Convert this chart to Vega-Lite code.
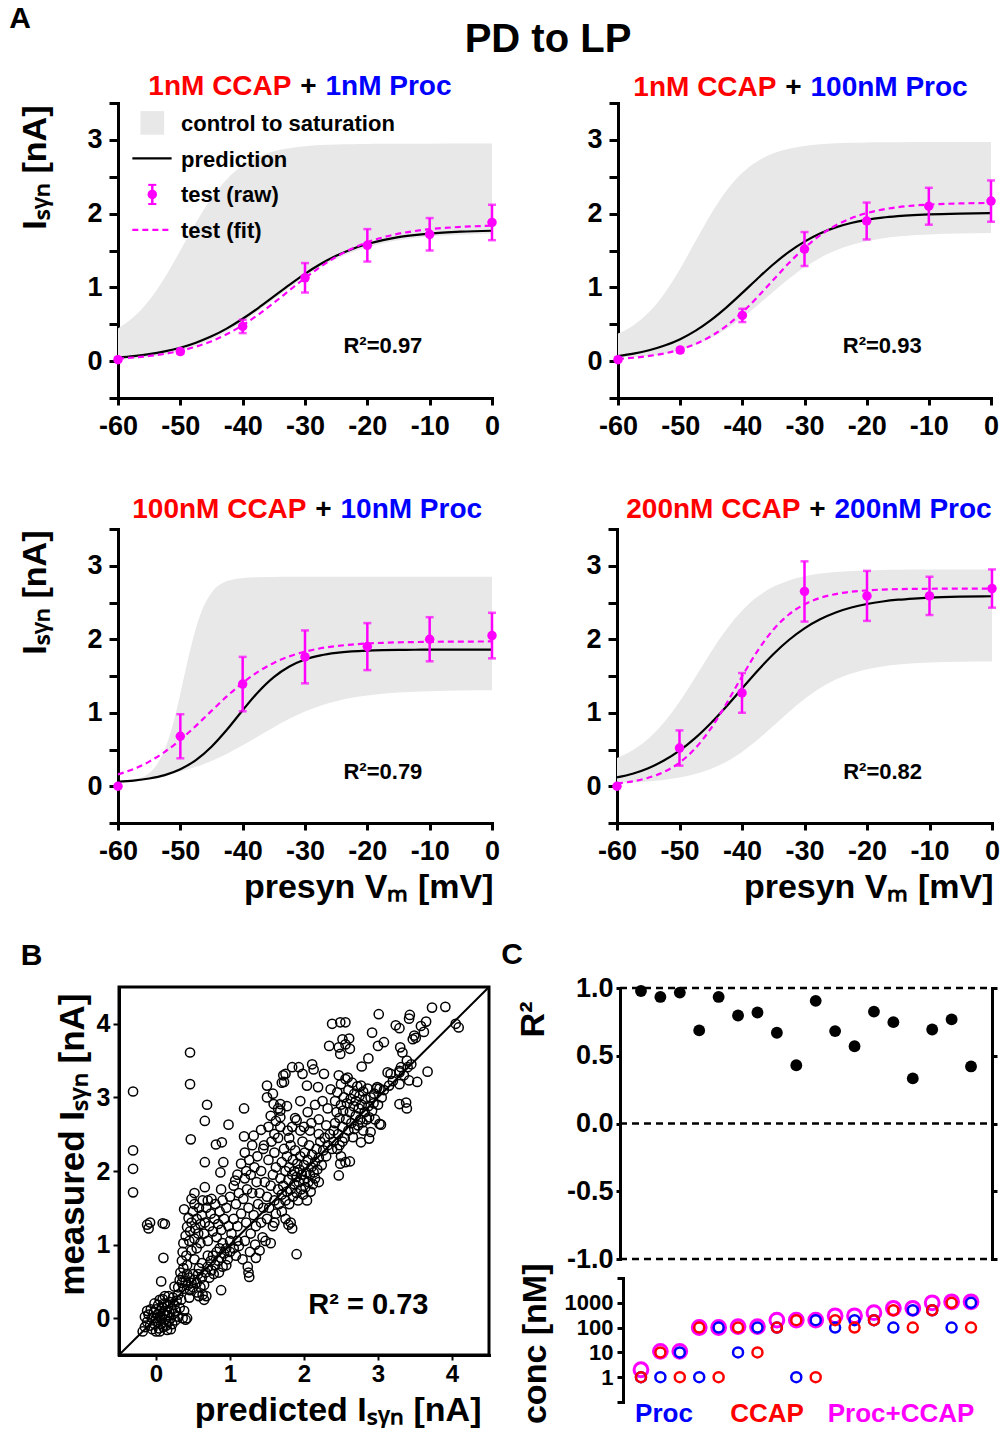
{
"$schema": "https://vega.github.io/schema/vega-lite/v6.json",
"width": 1001, "height": 1429,
"autosize": {"type": "none"},
"padding": 0,
"background": "white",
"config": {
 "font": "Liberation Sans",
 "view": {"stroke": null},
 "axis": {"grid": false, "domainColor": "black", "domainWidth": 3, "domainCap": "square", "tickColor": "black", "tickWidth": 3, "labelColor": "black", "labelFont": "Liberation Sans", "labelFontWeight": "bold", "labelFontSize": 27, "labelPadding": 6, "labelFlush": false, "labelOverlap": false, "titleColor": "black", "titleFont": "Liberation Sans", "titleFontWeight": "bold", "titleFontSize": 34},
 "text": {"font": "Liberation Sans", "fontWeight": "bold", "color": "black"}
},
"datasets": {
 "band": [
  {"p":"A1","V":-60,"lo":0.02,"hi":0.443},{"p":"A1","V":-57.5,"lo":0.03,"hi":0.597},{"p":"A1","V":-55,"lo":0.055,"hi":0.826},{"p":"A1","V":-52.5,"lo":0.09,"hi":1.132},{"p":"A1","V":-50,"lo":0.14,"hi":1.499},{"p":"A1","V":-47.5,"lo":0.21,"hi":1.875},{"p":"A1","V":-45,"lo":0.295,"hi":2.211},{"p":"A1","V":-42.5,"lo":0.4,"hi":2.471},{"p":"A1","V":-40,"lo":0.53,"hi":2.653},{"p":"A1","V":-37.5,"lo":0.68,"hi":2.771},{"p":"A1","V":-35,"lo":0.84,"hi":2.845},{"p":"A1","V":-32.5,"lo":0.995,"hi":2.888},{"p":"A1","V":-30,"lo":1.145,"hi":2.914},{"p":"A1","V":-27.5,"lo":1.275,"hi":2.929},{"p":"A1","V":-25,"lo":1.385,"hi":2.938},{"p":"A1","V":-22.5,"lo":1.475,"hi":2.942},{"p":"A1","V":-20,"lo":1.545,"hi":2.945},{"p":"A1","V":-17.5,"lo":1.6,"hi":2.947},{"p":"A1","V":-15,"lo":1.64,"hi":2.948},{"p":"A1","V":-10,"lo":1.69,"hi":2.949},{"p":"A1","V":-5,"lo":1.715,"hi":2.95},{"p":"A1","V":0,"lo":1.73,"hi":2.95},
  {"p":"A2","V":-60,"lo":0.05,"hi":0.373},{"p":"A2","V":-57.5,"lo":0.055,"hi":0.488},{"p":"A2","V":-55,"lo":0.07,"hi":0.665},{"p":"A2","V":-52.5,"lo":0.105,"hi":0.921},{"p":"A2","V":-50,"lo":0.154,"hi":1.253},{"p":"A2","V":-47.5,"lo":0.223,"hi":1.631},{"p":"A2","V":-45,"lo":0.317,"hi":2.002},{"p":"A2","V":-42.5,"lo":0.44,"hi":2.318},{"p":"A2","V":-40,"lo":0.59,"hi":2.554},{"p":"A2","V":-37.5,"lo":0.762,"hi":2.715},{"p":"A2","V":-35,"lo":0.942,"hi":2.818},{"p":"A2","V":-32.5,"lo":1.117,"hi":2.881},{"p":"A2","V":-30,"lo":1.272,"hi":2.918},{"p":"A2","V":-27.5,"lo":1.4,"hi":2.94},{"p":"A2","V":-25,"lo":1.5,"hi":2.953},{"p":"A2","V":-22.5,"lo":1.574,"hi":2.96},{"p":"A2","V":-20,"lo":1.627,"hi":2.965},{"p":"A2","V":-17.5,"lo":1.664,"hi":2.967},{"p":"A2","V":-15,"lo":1.689,"hi":2.968},{"p":"A2","V":-10,"lo":1.718,"hi":2.97},{"p":"A2","V":-5,"lo":1.73,"hi":2.97},{"p":"A2","V":0,"lo":1.736,"hi":2.97},
  {"p":"A3","V":-60,"lo":0.05,"hi":0.06},{"p":"A3","V":-57.5,"lo":0.07,"hi":0.09},{"p":"A3","V":-55,"lo":0.1,"hi":0.18},{"p":"A3","V":-53.75,"lo":0.13,"hi":0.297},{"p":"A3","V":-52.5,"lo":0.157,"hi":0.502},{"p":"A3","V":-51.25,"lo":0.178,"hi":0.824},{"p":"A3","V":-50,"lo":0.202,"hi":1.259},{"p":"A3","V":-48.75,"lo":0.231,"hi":1.734},{"p":"A3","V":-47.5,"lo":0.264,"hi":2.15},{"p":"A3","V":-46.25,"lo":0.301,"hi":2.448},{"p":"A3","V":-45,"lo":0.344,"hi":2.632},{"p":"A3","V":-42.5,"lo":0.442,"hi":2.791},{"p":"A3","V":-40,"lo":0.557,"hi":2.835},{"p":"A3","V":-37.5,"lo":0.68,"hi":2.845},{"p":"A3","V":-35,"lo":0.803,"hi":2.848},{"p":"A3","V":-32.5,"lo":0.918,"hi":2.85},{"p":"A3","V":-30,"lo":1.016,"hi":2.85},{"p":"A3","V":-27.5,"lo":1.096,"hi":2.85},{"p":"A3","V":-25,"lo":1.158,"hi":2.85},{"p":"A3","V":-22.5,"lo":1.203,"hi":2.85},{"p":"A3","V":-20,"lo":1.236,"hi":2.85},{"p":"A3","V":-17.5,"lo":1.259,"hi":2.85},{"p":"A3","V":-15,"lo":1.276,"hi":2.85},{"p":"A3","V":-10,"lo":1.294,"hi":2.85},{"p":"A3","V":-5,"lo":1.303,"hi":2.85},{"p":"A3","V":0,"lo":1.307,"hi":2.85},
  {"p":"A4","V":-60,"lo":0.044,"hi":0.383},{"p":"A4","V":-57.5,"lo":0.053,"hi":0.49},{"p":"A4","V":-55,"lo":0.066,"hi":0.647},{"p":"A4","V":-52.5,"lo":0.086,"hi":0.866},{"p":"A4","V":-50,"lo":0.118,"hi":1.149},{"p":"A4","V":-47.5,"lo":0.166,"hi":1.479},{"p":"A4","V":-45,"lo":0.236,"hi":1.82},{"p":"A4","V":-42.5,"lo":0.335,"hi":2.132},{"p":"A4","V":-40,"lo":0.467,"hi":2.388},{"p":"A4","V":-37.5,"lo":0.632,"hi":2.58},{"p":"A4","V":-35,"lo":0.819,"hi":2.713},{"p":"A4","V":-32.5,"lo":1.01,"hi":2.801},{"p":"A4","V":-30,"lo":1.187,"hi":2.858},{"p":"A4","V":-27.5,"lo":1.336,"hi":2.893},{"p":"A4","V":-25,"lo":1.451,"hi":2.915},{"p":"A4","V":-22.5,"lo":1.534,"hi":2.929},{"p":"A4","V":-20,"lo":1.591,"hi":2.937},{"p":"A4","V":-17.5,"lo":1.63,"hi":2.942},{"p":"A4","V":-15,"lo":1.655,"hi":2.945},{"p":"A4","V":-10,"lo":1.682,"hi":2.948},{"p":"A4","V":-5,"lo":1.693,"hi":2.95},{"p":"A4","V":0,"lo":1.697,"hi":2.95}
 ],
 "lines": [
  {"p":"A1","V":-60,"pr":0.047,"ft":0.034},{"p":"A1","V":-57.5,"pr":0.067,"ft":0.049},{"p":"A1","V":-55,"pr":0.094,"ft":0.07},{"p":"A1","V":-52.5,"pr":0.132,"ft":0.099},{"p":"A1","V":-50,"pr":0.182,"ft":0.14},{"p":"A1","V":-47.5,"pr":0.25,"ft":0.196},{"p":"A1","V":-45,"pr":0.336,"ft":0.27},{"p":"A1","V":-42.5,"pr":0.444,"ft":0.367},{"p":"A1","V":-40,"pr":0.574,"ft":0.487},{"p":"A1","V":-37.5,"pr":0.72,"ft":0.63},{"p":"A1","V":-35,"pr":0.877,"ft":0.79},{"p":"A1","V":-32.5,"pr":1.035,"ft":0.959},{"p":"A1","V":-30,"pr":1.184,"ft":1.126},{"p":"A1","V":-27.5,"pr":1.316,"ft":1.28},{"p":"A1","V":-25,"pr":1.428,"ft":1.414},{"p":"A1","V":-22.5,"pr":1.518,"ft":1.524},{"p":"A1","V":-20,"pr":1.588,"ft":1.612},{"p":"A1","V":-17.5,"pr":1.641,"ft":1.678},{"p":"A1","V":-15,"pr":1.681,"ft":1.728},{"p":"A1","V":-12.5,"pr":1.709,"ft":1.763},{"p":"A1","V":-10,"pr":1.73,"ft":1.789},{"p":"A1","V":-5,"pr":1.755,"ft":1.82},{"p":"A1","V":0,"pr":1.768,"ft":1.836},
  {"p":"A2","V":-60,"pr":0.069,"ft":0.03},{"p":"A2","V":-57.5,"pr":0.101,"ft":0.046},{"p":"A2","V":-55,"pr":0.147,"ft":0.07},{"p":"A2","V":-52.5,"pr":0.211,"ft":0.105},{"p":"A2","V":-50,"pr":0.298,"ft":0.158},{"p":"A2","V":-47.5,"pr":0.414,"ft":0.234},{"p":"A2","V":-45,"pr":0.56,"ft":0.34},{"p":"A2","V":-42.5,"pr":0.733,"ft":0.482},{"p":"A2","V":-40,"pr":0.925,"ft":0.662},{"p":"A2","V":-37.5,"pr":1.124,"ft":0.874},{"p":"A2","V":-35,"pr":1.314,"ft":1.103},{"p":"A2","V":-32.5,"pr":1.482,"ft":1.33},{"p":"A2","V":-30,"pr":1.621,"ft":1.535},{"p":"A2","V":-27.5,"pr":1.731,"ft":1.706},{"p":"A2","V":-25,"pr":1.813,"ft":1.839},{"p":"A2","V":-22.5,"pr":1.873,"ft":1.937},{"p":"A2","V":-20,"pr":1.916,"ft":2.007},{"p":"A2","V":-17.5,"pr":1.946,"ft":2.055},{"p":"A2","V":-15,"pr":1.966,"ft":2.087},{"p":"A2","V":-12.5,"pr":1.98,"ft":2.109},{"p":"A2","V":-10,"pr":1.99,"ft":2.123},{"p":"A2","V":-5,"pr":2.001,"ft":2.138},{"p":"A2","V":0,"pr":2.006,"ft":2.145},
  {"p":"A3","V":-60,"pr":0.061,"ft":0.161},{"p":"A3","V":-57.5,"pr":0.077,"ft":0.235},{"p":"A3","V":-55,"pr":0.105,"ft":0.335},{"p":"A3","V":-52.5,"pr":0.152,"ft":0.468},{"p":"A3","V":-50,"pr":0.232,"ft":0.632},{"p":"A3","V":-47.5,"pr":0.356,"ft":0.822},{"p":"A3","V":-45,"pr":0.538,"ft":1.026},{"p":"A3","V":-42.5,"pr":0.772,"ft":1.226},{"p":"A3","V":-40,"pr":1.034,"ft":1.407},{"p":"A3","V":-37.5,"pr":1.283,"ft":1.559},{"p":"A3","V":-35,"pr":1.485,"ft":1.678},{"p":"A3","V":-32.5,"pr":1.629,"ft":1.767},{"p":"A3","V":-30,"pr":1.724,"ft":1.831},{"p":"A3","V":-27.5,"pr":1.781,"ft":1.877},{"p":"A3","V":-25,"pr":1.815,"ft":1.907},{"p":"A3","V":-22.5,"pr":1.835,"ft":1.928},{"p":"A3","V":-20,"pr":1.846,"ft":1.942},{"p":"A3","V":-17.5,"pr":1.852,"ft":1.952},{"p":"A3","V":-15,"pr":1.855,"ft":1.958},{"p":"A3","V":-12.5,"pr":1.857,"ft":1.962},{"p":"A3","V":-10,"pr":1.858,"ft":1.965},{"p":"A3","V":-5,"pr":1.859,"ft":1.968},{"p":"A3","V":0,"pr":1.86,"ft":1.97},
  {"p":"A4","V":-60,"pr":0.12,"ft":0.039},{"p":"A4","V":-57.5,"pr":0.17,"ft":0.067},{"p":"A4","V":-55,"pr":0.245,"ft":0.115},{"p":"A4","V":-52.5,"pr":0.35,"ft":0.194},{"p":"A4","V":-50,"pr":0.485,"ft":0.321},{"p":"A4","V":-47.5,"pr":0.655,"ft":0.514},{"p":"A4","V":-45,"pr":0.858,"ft":0.784},{"p":"A4","V":-42.5,"pr":1.086,"ft":1.123},{"p":"A4","V":-40,"pr":1.33,"ft":1.494},{"p":"A4","V":-37.5,"pr":1.572,"ft":1.843},{"p":"A4","V":-35,"pr":1.796,"ft":2.129},{"p":"A4","V":-32.5,"pr":1.99,"ft":2.337},{"p":"A4","V":-30,"pr":2.149,"ft":2.475},{"p":"A4","V":-27.5,"pr":2.272,"ft":2.563},{"p":"A4","V":-25,"pr":2.365,"ft":2.615},{"p":"A4","V":-22.5,"pr":2.432,"ft":2.647},{"p":"A4","V":-20,"pr":2.48,"ft":2.665},{"p":"A4","V":-17.5,"pr":2.514,"ft":2.676},{"p":"A4","V":-15,"pr":2.538,"ft":2.682},{"p":"A4","V":-12.5,"pr":2.554,"ft":2.685},{"p":"A4","V":-10,"pr":2.566,"ft":2.687},{"p":"A4","V":-5,"pr":2.579,"ft":2.689},{"p":"A4","V":0,"pr":2.585,"ft":2.69}
 ],
 "pts": [
  {"p":"A1","V":-60,"I":0.02,"e":0.01},{"p":"A1","V":-50,"I":0.13,"e":0.03},{"p":"A1","V":-40,"I":0.47,"e":0.09},{"p":"A1","V":-30,"I":1.13,"e":0.2},{"p":"A1","V":-20,"I":1.57,"e":0.22},{"p":"A1","V":-10,"I":1.72,"e":0.22},{"p":"A1","V":0,"I":1.88,"e":0.24},
  {"p":"A2","V":-60,"I":0.02,"e":0.01},{"p":"A2","V":-50,"I":0.15,"e":0.03},{"p":"A2","V":-40,"I":0.62,"e":0.09},{"p":"A2","V":-30,"I":1.52,"e":0.23},{"p":"A2","V":-20,"I":1.9,"e":0.25},{"p":"A2","V":-10,"I":2.1,"e":0.25},{"p":"A2","V":0,"I":2.17,"e":0.28},
  {"p":"A3","V":-60,"I":0.0,"e":0.01},{"p":"A3","V":-50,"I":0.68,"e":0.3},{"p":"A3","V":-40,"I":1.39,"e":0.37},{"p":"A3","V":-30,"I":1.76,"e":0.36},{"p":"A3","V":-20,"I":1.9,"e":0.32},{"p":"A3","V":-10,"I":2.0,"e":0.3},{"p":"A3","V":0,"I":2.05,"e":0.31},
  {"p":"A4","V":-60,"I":0.0,"e":0.01},{"p":"A4","V":-50,"I":0.52,"e":0.24},{"p":"A4","V":-40,"I":1.27,"e":0.27},{"p":"A4","V":-30,"I":2.65,"e":0.41},{"p":"A4","V":-20,"I":2.59,"e":0.34},{"p":"A4","V":-10,"I":2.59,"e":0.26},{"p":"A4","V":0,"I":2.69,"e":0.26}
 ],
 "sc": [
  {"p":-0.31,"m":3.08},{"p":-0.31,"m":2.28},{"p":-0.31,"m":2.03},{"p":-0.31,"m":1.71},
  {"p":-0.12,"m":1.27},{"p":-0.1,"m":1.22},{"p":-0.08,"m":1.3},{"p":0.09,"m":1.29},{"p":0.12,"m":1.28},{"p":0.1,"m":0.82},{"p":0.07,"m":0.5},{"p":0.25,"m":0.43},
  {"p":0.46,"m":3.61},{"p":0.46,"m":3.18},{"p":0.47,"m":2.43},{"p":0.69,"m":2.9},{"p":0.66,"m":2.68},{"p":0.98,"m":2.63},{"p":1.19,"m":2.85},{"p":0.81,"m":2.36},{"p":0.89,"m":2.39},{"p":0.66,"m":2.12},{"p":0.87,"m":1.98},{"p":0.91,"m":2.12},{"p":1.19,"m":2.47},{"p":1.07,"m":1.87},{"p":1.32,"m":2.48},{"p":1.42,"m":2.56},{"p":0.88,"m":1.75},{"p":0.66,"m":1.78},{"p":0.7,"m":1.6},{"p":0.52,"m":1.7},{"p":0.48,"m":1.62},{"p":0.52,"m":1.55},
  {"p":-0.18,"m":-0.18},{"p":-0.15,"m":-0.12},{"p":-0.12,"m":-0.05},{"p":-0.15,"m":0.02},{"p":-0.1,"m":0.05},{"p":-0.08,"m":-0.1},{"p":-0.05,"m":-0.15},{"p":-0.05,"m":0.0},{"p":-0.03,"m":0.08},{"p":-0.02,"m":-0.08},{"p":0.0,"m":0.0},{"p":0.0,"m":0.12},{"p":0.02,"m":-0.05},{"p":0.02,"m":0.05},{"p":0.03,"m":0.18},{"p":0.04,"m":-0.14},{"p":0.05,"m":0.02},{"p":0.06,"m":0.1},{"p":0.07,"m":-0.08},{"p":0.08,"m":0.0},{"p":0.08,"m":0.15},{"p":0.1,"m":0.06},{"p":0.1,"m":-0.12},{"p":0.11,"m":0.2},{"p":0.12,"m":-0.02},{"p":0.13,"m":0.1},{"p":0.14,"m":-0.1},{"p":0.15,"m":0.04},{"p":0.16,"m":0.16},{"p":0.17,"m":-0.05},{"p":0.18,"m":0.08},{"p":0.19,"m":0.22},{"p":0.2,"m":0.0},{"p":0.21,"m":0.13},{"p":0.22,"m":-0.08},{"p":0.23,"m":0.28},{"p":0.24,"m":0.06},{"p":0.25,"m":0.18},{"p":0.27,"m":0.1},{"p":0.28,"m":0.24},{"p":0.3,"m":0.02},{"p":0.3,"m":0.32},{"p":0.32,"m":0.14},{"p":0.34,"m":0.25},{"p":0.36,"m":0.0},{"p":0.4,"m":-0.02},{"p":0.42,"m":0.0},{"p":0.38,"m":0.1},{"p":-0.07,"m":0.12},{"p":-0.12,"m":0.1},{"p":0.0,"m":-0.18},{"p":0.05,"m":-0.18},{"p":0.15,"m":-0.16},{"p":0.12,"m":0.3},{"p":0.05,"m":0.25},{"p":-0.02,"m":0.2},{"p":0.2,"m":-0.15},{"p":0.26,"m":-0.03},{"p":0.09,"m":0.26},{"p":0.17,"m":0.3},
  {"p":0.3,"m":0.42},{"p":0.32,"m":0.52},{"p":0.33,"m":0.62},{"p":0.35,"m":0.48},{"p":0.36,"m":0.56},{"p":0.37,"m":0.68},{"p":0.38,"m":0.4},{"p":0.4,"m":0.5},{"p":0.42,"m":0.6},{"p":0.43,"m":0.45},{"p":0.45,"m":0.55},{"p":0.46,"m":0.38},{"p":0.48,"m":0.48},{"p":0.5,"m":0.42},{"p":0.5,"m":0.6},{"p":0.52,"m":0.52},{"p":0.55,"m":0.35},{"p":0.55,"m":0.48},{"p":0.57,"m":0.6},{"p":0.58,"m":0.3},{"p":0.6,"m":0.42},{"p":0.62,"m":0.55},{"p":0.63,"m":0.32},{"p":0.65,"m":0.45},{"p":0.67,"m":0.62},{"p":0.68,"m":0.3},{"p":0.7,"m":0.7},{"p":0.72,"m":0.55},{"p":0.74,"m":0.78},{"p":0.75,"m":0.65},{"p":0.77,"m":0.85},{"p":0.8,"m":0.72},{"p":0.82,"m":0.9},{"p":0.84,"m":0.78},{"p":0.86,"m":0.95},{"p":0.88,"m":0.82},{"p":0.9,"m":0.7},{"p":0.9,"m":1.02},{"p":0.92,"m":0.88},{"p":0.95,"m":0.95},{"p":0.97,"m":0.8},{"p":1.0,"m":1.05},{"p":1.0,"m":0.9},{"p":0.85,"m":0.62},{"p":0.88,"m":0.38},{"p":0.78,"m":0.6},{"p":0.95,"m":0.72},{"p":0.7,"m":0.85},{"p":0.62,"m":0.75},{"p":0.58,"m":0.68},{"p":1.05,"m":0.95},{"p":1.08,"m":0.85},{"p":1.1,"m":1.05},{"p":0.45,"m":0.28},{"p":0.65,"m":0.25},
  {"p":0.35,"m":0.78},{"p":0.36,"m":0.9},{"p":0.37,"m":1.02},{"p":0.38,"m":1.48},{"p":0.4,"m":1.12},{"p":0.41,"m":0.85},{"p":0.42,"m":1.24},{"p":0.44,"m":1.36},{"p":0.45,"m":1.05},{"p":0.46,"m":1.18},{"p":0.48,"m":1.3},{"p":0.48,"m":0.92},{"p":0.5,"m":1.45},{"p":0.52,"m":1.08},{"p":0.53,"m":1.22},{"p":0.55,"m":1.35},{"p":0.55,"m":0.95},{"p":0.57,"m":1.15},{"p":0.58,"m":1.5},{"p":0.6,"m":1.28},{"p":0.6,"m":1.02},{"p":0.62,"m":1.4},{"p":0.63,"m":1.6},{"p":0.65,"m":1.15},{"p":0.66,"m":1.3},{"p":0.68,"m":1.5},{"p":0.7,"m":1.05},{"p":0.72,"m":1.25},{"p":0.74,"m":1.42},{"p":0.75,"m":1.62},{"p":0.77,"m":1.18},{"p":0.79,"m":1.35},{"p":0.8,"m":1.55},{"p":0.82,"m":1.1},{"p":0.84,"m":1.28},{"p":0.86,"m":1.45},{"p":0.88,"m":1.2},{"p":0.9,"m":1.6},{"p":0.92,"m":1.35},{"p":0.95,"m":1.5},{"p":0.98,"m":1.25},{"p":1.0,"m":1.65},{"p":0.42,"m":0.72},{"p":0.52,"m":0.8},
  {"p":1.02,"m":1.15},{"p":1.05,"m":1.35},{"p":1.05,"m":1.8},{"p":1.08,"m":1.55},{"p":1.1,"m":1.25},{"p":1.1,"m":1.95},{"p":1.12,"m":0.98},{"p":1.12,"m":1.7},{"p":1.15,"m":1.42},{"p":1.15,"m":2.1},{"p":1.17,"m":0.8},{"p":1.18,"m":1.62},{"p":1.2,"m":1.05},{"p":1.2,"m":1.9},{"p":1.2,"m":2.25},{"p":1.22,"m":1.3},{"p":1.22,"m":2.0},{"p":1.23,"m":1.75},{"p":1.24,"m":0.7},{"p":1.25,"m":0.62},{"p":1.26,"m":0.56},{"p":1.25,"m":1.5},{"p":1.26,"m":2.15},{"p":1.27,"m":0.9},{"p":1.28,"m":1.15},{"p":1.28,"m":1.95},{"p":1.3,"m":1.7},{"p":1.3,"m":2.35},{"p":1.32,"m":1.4},{"p":1.33,"m":2.05},{"p":1.34,"m":1.0},{"p":1.35,"m":1.25},{"p":1.36,"m":1.85},{"p":1.37,"m":2.2},{"p":1.38,"m":1.55},{"p":1.4,"m":0.92},{"p":1.4,"m":1.7},{"p":1.42,"m":1.3},{"p":1.42,"m":2.0},{"p":1.44,"m":1.1},{"p":1.45,"m":1.5},{"p":1.45,"m":2.3},{"p":1.47,"m":1.85},{"p":1.48,"m":1.05},{"p":1.5,"m":1.35},{"p":1.5,"m":1.65},{"p":1.52,"m":2.15},{"p":1.53,"m":1.5},{"p":1.55,"m":1.02},{"p":1.55,"m":1.8},{"p":1.56,"m":2.4},{"p":1.58,"m":1.25},{"p":1.58,"m":1.95},{"p":1.6,"m":1.6},{"p":1.6,"m":2.25},{"p":1.62,"m":1.42},{"p":1.62,"m":2.05},{"p":1.65,"m":1.75},{"p":1.65,"m":2.45},{"p":1.35,"m":0.82},
  {"p":1.66,"m":1.55},{"p":1.68,"m":1.9},{"p":1.7,"m":1.68},{"p":1.7,"m":2.12},{"p":1.72,"m":1.8},{"p":1.73,"m":2.3},{"p":1.75,"m":1.6},{"p":1.75,"m":2.0},{"p":1.77,"m":1.72},{"p":1.77,"m":2.2},{"p":1.79,"m":1.88},{"p":1.8,"m":1.55},{"p":1.8,"m":2.05},{"p":1.82,"m":1.75},{"p":1.82,"m":2.35},{"p":1.84,"m":1.95},{"p":1.85,"m":1.65},{"p":1.85,"m":2.15},{"p":1.87,"m":1.82},{"p":1.87,"m":2.0},{"p":1.88,"m":2.28},{"p":1.9,"m":1.7},{"p":1.9,"m":1.92},{"p":1.91,"m":2.1},{"p":1.92,"m":1.6},{"p":1.93,"m":1.85},{"p":1.94,"m":2.02},{"p":1.95,"m":2.2},{"p":1.96,"m":1.75},{"p":1.97,"m":1.95},{"p":1.98,"m":2.4},{"p":1.99,"m":1.68},{"p":2.0,"m":1.88},{"p":2.0,"m":2.08},{"p":2.01,"m":2.25},{"p":2.02,"m":1.78},{"p":2.03,"m":1.98},{"p":2.04,"m":1.6},{"p":2.05,"m":2.15},{"p":2.06,"m":1.85},{"p":2.07,"m":2.35},{"p":2.08,"m":1.95},{"p":2.09,"m":1.72},{"p":2.1,"m":2.05},{"p":2.11,"m":2.22},{"p":2.12,"m":1.82},{"p":2.13,"m":1.98},{"p":2.15,"m":2.12},{"p":2.15,"m":1.9},{"p":2.17,"m":2.3},{"p":2.18,"m":2.02},{"p":2.2,"m":1.85},{"p":2.2,"m":2.18},{"p":2.22,"m":2.4},{"p":2.24,"m":2.08},{"p":2.26,"m":2.28},{"p":2.28,"m":2.45},{"p":2.3,"m":2.2},{"p":2.32,"m":2.35},{"p":2.35,"m":2.5},{"p":2.38,"m":2.3},{"p":2.4,"m":2.55},{"p":1.79,"m":1.27},{"p":1.84,"m":1.22},{"p":1.82,"m":1.3},{"p":1.9,"m":0.87},{"p":1.7,"m":1.45},{"p":1.75,"m":1.35},{"p":1.6,"m":1.3},
  {"p":1.46,"m":2.35},{"p":1.5,"m":3.16},{"p":1.5,"m":3.0},{"p":1.52,"m":2.6},{"p":1.55,"m":2.75},{"p":1.58,"m":3.05},{"p":1.59,"m":2.91},{"p":1.6,"m":2.5},{"p":1.62,"m":2.68},{"p":1.65,"m":2.85},{"p":1.68,"m":2.91},{"p":1.68,"m":2.82},{"p":1.68,"m":2.73},{"p":1.68,"m":2.6},{"p":1.7,"m":3.2},{"p":1.72,"m":3.3},{"p":1.73,"m":3.21},{"p":1.75,"m":3.32},{"p":1.77,"m":2.88},{"p":1.78,"m":2.55},{"p":1.8,"m":2.45},{"p":1.84,"m":3.41},{"p":1.84,"m":2.6},{"p":1.88,"m":2.72},{"p":1.9,"m":2.69},{"p":1.93,"m":3.41},{"p":1.95,"m":2.95},{"p":1.98,"m":3.32},{"p":2.0,"m":2.6},{"p":2.04,"m":3.16},{"p":2.05,"m":2.8},{"p":2.08,"m":2.55},{"p":2.11,"m":3.45},{"p":2.13,"m":3.38},{"p":2.15,"m":2.9},{"p":2.19,"m":3.14},{"p":2.2,"m":2.7},{"p":2.25,"m":2.95},{"p":2.27,"m":3.32},{"p":2.3,"m":2.62},{"p":2.32,"m":2.85},{"p":2.36,"m":3.11},{"p":2.2,"m":2.5},{"p":1.95,"m":2.55},{"p":2.1,"m":2.65},
  {"p":2.42,"m":2.65},{"p":2.42,"m":2.95},{"p":2.44,"m":2.8},{"p":2.45,"m":3.07},{"p":2.46,"m":2.5},{"p":2.47,"m":3.3},{"p":2.48,"m":2.72},{"p":2.5,"m":2.9},{"p":2.5,"m":3.18},{"p":2.52,"m":2.6},{"p":2.53,"m":2.82},{"p":2.54,"m":3.0},{"p":2.55,"m":2.45},{"p":2.56,"m":3.25},{"p":2.57,"m":2.7},{"p":2.58,"m":2.92},{"p":2.59,"m":3.27},{"p":2.6,"m":2.55},{"p":2.6,"m":3.1},{"p":2.62,"m":2.8},{"p":2.63,"m":2.98},{"p":2.64,"m":2.65},{"p":2.65,"m":3.2},{"p":2.66,"m":2.46},{"p":2.67,"m":2.88},{"p":2.68,"m":3.05},{"p":2.68,"m":2.57},{"p":2.7,"m":2.75},{"p":2.7,"m":2.95},{"p":2.72,"m":3.15},{"p":2.73,"m":2.62},{"p":2.74,"m":2.85},{"p":2.75,"m":3.02},{"p":2.76,"m":2.7},{"p":2.77,"m":3.16},{"p":2.77,"m":2.39},{"p":2.78,"m":2.9},{"p":2.79,"m":2.66},{"p":2.8,"m":3.08},{"p":2.8,"m":2.55},{"p":2.82,"m":2.8},{"p":2.83,"m":2.98},{"p":2.85,"m":2.7},{"p":2.86,"m":3.12},{"p":2.87,"m":2.88},{"p":2.88,"m":2.44},{"p":2.88,"m":2.73},{"p":2.9,"m":2.53},{"p":2.9,"m":3.0},{"p":2.92,"m":2.82},{"p":2.94,"m":2.92},{"p":2.95,"m":3.05},{"p":2.96,"m":2.7},{"p":2.98,"m":3.12},{"p":3.0,"m":2.9},{"p":3.02,"m":2.64},{"p":3.05,"m":3.0},{"p":3.08,"m":3.1},{"p":2.99,"m":3.14},{"p":3.13,"m":3.34},{"p":3.29,"m":3.36},{"p":2.45,"m":2.3},{"p":2.5,"m":2.2},{"p":2.49,"m":2.1},{"p":2.56,"m":2.12},{"p":2.62,"m":2.13},{"p":2.47,"m":1.94},{"p":2.48,"m":2.35},{"p":2.52,"m":2.4},{"p":2.4,"m":2.4},
  {"p":2.38,"m":4.0},{"p":2.49,"m":4.02},{"p":2.56,"m":4.02},{"p":3.01,"m":4.13},{"p":3.73,"m":4.22},{"p":3.91,"m":4.23},{"p":4.05,"m":4.0},{"p":4.09,"m":3.95},{"p":3.43,"m":4.12},{"p":3.42,"m":4.07},{"p":3.24,"m":3.98},{"p":3.29,"m":3.94},{"p":3.58,"m":3.97},{"p":3.65,"m":4.03},{"p":3.62,"m":3.89},{"p":3.49,"m":3.84},{"p":3.47,"m":3.79},{"p":3.51,"m":3.81},{"p":2.92,"m":3.88},{"p":3.08,"m":3.75},{"p":3.0,"m":3.7},{"p":2.34,"m":3.7},{"p":2.52,"m":3.79},{"p":2.61,"m":3.8},{"p":2.47,"m":3.68},{"p":2.56,"m":3.72},{"p":2.49,"m":3.59},{"p":2.62,"m":3.66},{"p":2.78,"m":3.42},{"p":2.87,"m":3.53},{"p":3.3,"m":3.68},{"p":3.33,"m":3.61},{"p":3.39,"m":3.5},{"p":3.4,"m":3.41},{"p":3.31,"m":3.41},{"p":3.29,"m":3.34},{"p":3.42,"m":3.23},{"p":3.53,"m":3.21},{"p":3.67,"m":3.35},{"p":3.29,"m":3.18},{"p":3.17,"m":3.32},{"p":3.29,"m":2.91},{"p":3.38,"m":2.93},{"p":3.39,"m":2.85},{"p":3.04,"m":2.63},{"p":3.15,"m":3.16},{"p":3.02,"m":3.12},{"p":3.2,"m":3.22},{"p":3.35,"m":3.3},{"p":3.45,"m":3.45}
 ],
 "r2": [
  {"i":1,"r":0.978},{"i":2,"r":0.934},{"i":3,"r":0.966},{"i":4,"r":0.687},{"i":5,"r":0.934},{"i":6,"r":0.797},{"i":7,"r":0.819},{"i":8,"r":0.67},{"i":9,"r":0.43},{"i":10,"r":0.905},{"i":11,"r":0.682},{"i":12,"r":0.57},{"i":13,"r":0.826},{"i":14,"r":0.748},{"i":15,"r":0.333},{"i":16,"r":0.694},{"i":17,"r":0.768},{"i":18,"r":0.421}
 ],
 "conc": [
  {"i":1,"d":"Proc","c":1},{"i":1,"d":"CCAP","c":1},{"i":1,"d":"Both","c":2},
  {"i":2,"d":"Proc","c":1},{"i":2,"d":"CCAP","c":10},{"i":2,"d":"Both","c":11},
  {"i":3,"d":"Proc","c":10},{"i":3,"d":"CCAP","c":1},{"i":3,"d":"Both","c":11},
  {"i":4,"d":"Proc","c":1},{"i":4,"d":"CCAP","c":100},{"i":4,"d":"Both","c":101},
  {"i":5,"d":"Proc","c":100},{"i":5,"d":"CCAP","c":1},{"i":5,"d":"Both","c":101},
  {"i":6,"d":"Proc","c":10},{"i":6,"d":"CCAP","c":100},{"i":6,"d":"Both","c":110},
  {"i":7,"d":"Proc","c":100},{"i":7,"d":"CCAP","c":10},{"i":7,"d":"Both","c":110},
  {"i":8,"d":"Proc","c":100},{"i":8,"d":"CCAP","c":100},{"i":8,"d":"Both","c":200},
  {"i":9,"d":"Proc","c":1},{"i":9,"d":"CCAP","c":200},{"i":9,"d":"Both","c":201},
  {"i":10,"d":"Proc","c":200},{"i":10,"d":"CCAP","c":1},{"i":10,"d":"Both","c":201},
  {"i":11,"d":"Proc","c":100},{"i":11,"d":"CCAP","c":200},{"i":11,"d":"Both","c":300},
  {"i":12,"d":"Proc","c":200},{"i":12,"d":"CCAP","c":100},{"i":12,"d":"Both","c":300},
  {"i":13,"d":"Proc","c":200},{"i":13,"d":"CCAP","c":200},{"i":13,"d":"Both","c":400},
  {"i":14,"d":"Proc","c":100},{"i":14,"d":"CCAP","c":500},{"i":14,"d":"Both","c":600},
  {"i":15,"d":"Proc","c":500},{"i":15,"d":"CCAP","c":100},{"i":15,"d":"Both","c":600},
  {"i":16,"d":"Proc","c":500},{"i":16,"d":"CCAP","c":500},{"i":16,"d":"Both","c":1000},
  {"i":17,"d":"Proc","c":100},{"i":17,"d":"CCAP","c":1000},{"i":17,"d":"Both","c":1100},
  {"i":18,"d":"Proc","c":1000},{"i":18,"d":"CCAP","c":100},{"i":18,"d":"Both","c":1100}
 ]
},
"layer": [
 {
  "data": {"values": [{}]},
  "resolve": {"axis": {"x": "independent", "y": "independent"}},
  "layer": [
   {"data": {"name": "band"}, "transform": [{"filter": "datum.p==='A1'"}],
    "mark": {"type": "area", "color": "#e8e8e8", "interpolate": "monotone"},
    "encoding": {
     "x": {"field": "V", "type": "quantitative", "scale": {"domain": [-60, 0], "range": [118, 492], "nice": false, "zero": false}, "axis": {"orient": "bottom", "offset": -1031, "values": [-60, -50, -40, -30, -20, -10, 0], "labelExpr": "toString(datum.value)", "tickSize": 7, "labelPadding": 8, "title": null}},
     "y": {"field": "lo", "type": "quantitative", "scale": {"domain": [-0.5, 3.5], "range": [398, 103], "nice": false, "zero": false}, "axis": {"orient": "left", "offset": -118, "values": [-0.5, 0, 0.5, 1, 1.5, 2, 2.5, 3, 3.5], "labelExpr": "datum.value===0||datum.value===1||datum.value===2||datum.value===3 ? toString(datum.value) : ''", "tickSize": 9, "labelPadding": 7, "title": "Iₛᵧₙ [nA]", "titleAngle": -90, "titleX": -73, "titleY": 105, "titleAlign": "right", "titleBaseline": "alphabetic"}},
     "y2": {"field": "hi"}}},
   {"data": {"name": "lines"}, "transform": [{"filter": "datum.p==='A1'"}],
    "mark": {"type": "line", "color": "black", "strokeWidth": 2.2, "interpolate": "monotone"},
    "encoding": {"x": {"field": "V", "type": "quantitative", "axis": null}, "y": {"field": "pr", "type": "quantitative", "axis": null}}},
   {"data": {"name": "lines"}, "transform": [{"filter": "datum.p==='A1'"}],
    "mark": {"type": "line", "color": "#ff00ff", "strokeWidth": 2.2, "strokeDash": [6, 4], "interpolate": "monotone"},
    "encoding": {"x": {"field": "V", "type": "quantitative", "axis": null}, "y": {"field": "ft", "type": "quantitative", "axis": null}}},
   {"data": {"name": "pts"}, "transform": [{"filter": "datum.p==='A1'"}],
    "mark": {"type": "errorbar", "ticks": true, "size": 8, "thickness": 2.5, "color": "#ff00ff"},
    "encoding": {"x": {"field": "V", "type": "quantitative", "axis": null}, "y": {"field": "I", "type": "quantitative", "axis": null}, "yError": {"field": "e"}}},
   {"data": {"name": "pts"}, "transform": [{"filter": "datum.p==='A1'"}],
    "mark": {"type": "point", "filled": true, "size": 90, "color": "#ff00ff", "opacity": 1},
    "encoding": {"x": {"field": "V", "type": "quantitative", "axis": null}, "y": {"field": "I", "type": "quantitative", "axis": null}}},
   {"mark": {"type": "rect", "color": "#e8e8e8"}, "encoding": {"x": {"datum": -56.4, "axis": null}, "x2": {"datum": -52.6}, "y": {"datum": 3.07, "axis": null}, "y2": {"datum": 3.39}}},
   {"mark": {"type": "rule", "color": "black", "strokeWidth": 2.2}, "encoding": {"x": {"datum": -57.7, "axis": null}, "x2": {"datum": -51.4}, "y": {"datum": 2.75, "axis": null}}},
   {"mark": {"type": "rule", "color": "#ff00ff", "strokeWidth": 2.2, "strokeDash": [6, 4]}, "encoding": {"x": {"datum": -57.7, "axis": null}, "x2": {"datum": -51.4}, "y": {"datum": 1.78, "axis": null}}},
   {"mark": {"type": "rule", "color": "#ff00ff", "strokeWidth": 2.5}, "encoding": {"x": {"datum": -54.5, "axis": null}, "y": {"datum": 2.13, "axis": null}, "y2": {"datum": 2.39}}},
   {"mark": {"type": "rule", "color": "#ff00ff", "strokeWidth": 2}, "encoding": {"x": {"datum": -55.15, "axis": null}, "x2": {"datum": -53.85}, "y": {"datum": 2.39, "axis": null}}},
   {"mark": {"type": "rule", "color": "#ff00ff", "strokeWidth": 2}, "encoding": {"x": {"datum": -55.15, "axis": null}, "x2": {"datum": -53.85}, "y": {"datum": 2.13, "axis": null}}},
   {"mark": {"type": "point", "filled": true, "size": 90, "color": "#ff00ff", "opacity": 1}, "encoding": {"x": {"datum": -54.5, "axis": null}, "y": {"datum": 2.26, "axis": null}}},
   {"mark": {"type": "text", "text": "control to saturation", "fontSize": 22, "align": "left", "baseline": "middle"}, "encoding": {"x": {"datum": -49.9, "axis": null}, "y": {"datum": 3.22, "axis": null}}},
   {"mark": {"type": "text", "text": "prediction", "fontSize": 22, "align": "left", "baseline": "middle"}, "encoding": {"x": {"datum": -49.9, "axis": null}, "y": {"datum": 2.73, "axis": null}}},
   {"mark": {"type": "text", "text": "test (raw)", "fontSize": 22, "align": "left", "baseline": "middle"}, "encoding": {"x": {"datum": -49.9, "axis": null}, "y": {"datum": 2.25, "axis": null}}},
   {"mark": {"type": "text", "text": "test (fit)", "fontSize": 22, "align": "left", "baseline": "middle"}, "encoding": {"x": {"datum": -49.9, "axis": null}, "y": {"datum": 1.77, "axis": null}}},
   {"mark": {"type": "text", "text": "R²=0.97", "fontSize": 22, "align": "center", "baseline": "middle"}, "encoding": {"x": {"datum": -17.5, "axis": null}, "y": {"datum": 0.2, "axis": null}}},
   {"mark": {"type": "text", "text": "+", "fontSize": 28, "align": "center", "baseline": "middle"}, "encoding": {"x": {"datum": -29.44, "axis": null}, "y": {"datum": 3.72, "axis": null}}},
   {"mark": {"type": "text", "text": "1nM CCAP", "fontSize": 28, "align": "right", "baseline": "middle", "dx": -17, "color": "#ff0000"}, "encoding": {"x": {"datum": -29.44, "axis": null}, "y": {"datum": 3.72, "axis": null}}},
   {"mark": {"type": "text", "text": "1nM Proc", "fontSize": 28, "align": "left", "baseline": "middle", "dx": 17, "color": "#0000ff"}, "encoding": {"x": {"datum": -29.44, "axis": null}, "y": {"datum": 3.72, "axis": null}}},
   {"mark": {"type": "text", "text": "A", "fontSize": 30, "align": "center", "baseline": "middle"}, "encoding": {"x": {"datum": -75.7, "axis": null}, "y": {"datum": 4.635, "axis": null}}},
   {"mark": {"type": "text", "text": "PD to LP", "fontSize": 40, "align": "center", "baseline": "middle"}, "encoding": {"x": {"datum": 8.98, "axis": null}, "y": {"datum": 4.35, "axis": null}}}
  ]
 },
 {
  "data": {"values": [{}]},
  "resolve": {"axis": {"x": "independent", "y": "independent"}},
  "layer": [
   {"data": {"name": "band"}, "transform": [{"filter": "datum.p==='A2'"}],
    "mark": {"type": "area", "color": "#e8e8e8", "interpolate": "monotone"},
    "encoding": {
     "x": {"field": "V", "type": "quantitative", "scale": {"domain": [-60, 0], "range": [618, 991], "nice": false, "zero": false}, "axis": {"orient": "bottom", "offset": -1031, "values": [-60, -50, -40, -30, -20, -10, 0], "labelExpr": "toString(datum.value)", "tickSize": 7, "labelPadding": 8, "title": null}},
     "y": {"field": "lo", "type": "quantitative", "scale": {"domain": [-0.5, 3.5], "range": [398, 103], "nice": false, "zero": false}, "axis": {"orient": "left", "offset": -618, "values": [-0.5, 0, 0.5, 1, 1.5, 2, 2.5, 3, 3.5], "labelExpr": "datum.value===0||datum.value===1||datum.value===2||datum.value===3 ? toString(datum.value) : ''", "tickSize": 9, "labelPadding": 7, "title": null}},
     "y2": {"field": "hi"}}},
   {"data": {"name": "lines"}, "transform": [{"filter": "datum.p==='A2'"}],
    "mark": {"type": "line", "color": "black", "strokeWidth": 2.2, "interpolate": "monotone"},
    "encoding": {"x": {"field": "V", "type": "quantitative", "axis": null}, "y": {"field": "pr", "type": "quantitative", "axis": null}}},
   {"data": {"name": "lines"}, "transform": [{"filter": "datum.p==='A2'"}],
    "mark": {"type": "line", "color": "#ff00ff", "strokeWidth": 2.2, "strokeDash": [6, 4], "interpolate": "monotone"},
    "encoding": {"x": {"field": "V", "type": "quantitative", "axis": null}, "y": {"field": "ft", "type": "quantitative", "axis": null}}},
   {"data": {"name": "pts"}, "transform": [{"filter": "datum.p==='A2'"}],
    "mark": {"type": "errorbar", "ticks": true, "size": 8, "thickness": 2.5, "color": "#ff00ff"},
    "encoding": {"x": {"field": "V", "type": "quantitative", "axis": null}, "y": {"field": "I", "type": "quantitative", "axis": null}, "yError": {"field": "e"}}},
   {"data": {"name": "pts"}, "transform": [{"filter": "datum.p==='A2'"}],
    "mark": {"type": "point", "filled": true, "size": 90, "color": "#ff00ff", "opacity": 1},
    "encoding": {"x": {"field": "V", "type": "quantitative", "axis": null}, "y": {"field": "I", "type": "quantitative", "axis": null}}},
   {"mark": {"type": "text", "text": "R²=0.93", "fontSize": 22, "align": "center", "baseline": "middle"}, "encoding": {"x": {"datum": -17.5, "axis": null}, "y": {"datum": 0.2, "axis": null}}},
   {"mark": {"type": "text", "text": "+", "fontSize": 28, "align": "center", "baseline": "middle"}, "encoding": {"x": {"datum": -31.77, "axis": null}, "y": {"datum": 3.71, "axis": null}}},
   {"mark": {"type": "text", "text": "1nM CCAP", "fontSize": 28, "align": "right", "baseline": "middle", "dx": -17, "color": "#ff0000"}, "encoding": {"x": {"datum": -31.77, "axis": null}, "y": {"datum": 3.71, "axis": null}}},
   {"mark": {"type": "text", "text": "100nM Proc", "fontSize": 28, "align": "left", "baseline": "middle", "dx": 17, "color": "#0000ff"}, "encoding": {"x": {"datum": -31.77, "axis": null}, "y": {"datum": 3.71, "axis": null}}}
  ]
 },
 {
  "data": {"values": [{}]},
  "resolve": {"axis": {"x": "independent", "y": "independent"}},
  "layer": [
   {"data": {"name": "band"}, "transform": [{"filter": "datum.p==='A3'"}],
    "mark": {"type": "area", "color": "#e8e8e8", "interpolate": "monotone"},
    "encoding": {
     "x": {"field": "V", "type": "quantitative", "scale": {"domain": [-60, 0], "range": [118, 492], "nice": false, "zero": false}, "axis": {"orient": "bottom", "offset": -606, "values": [-60, -50, -40, -30, -20, -10, 0], "labelExpr": "toString(datum.value)", "tickSize": 7, "labelPadding": 8, "title": "presyn Vₘ [mV]", "titleX": 493, "titleY": 74, "titleAlign": "right", "titleBaseline": "alphabetic"}},
     "y": {"field": "lo", "type": "quantitative", "scale": {"domain": [-0.5, 3.5], "range": [823, 529], "nice": false, "zero": false}, "axis": {"orient": "left", "offset": -118, "values": [-0.5, 0, 0.5, 1, 1.5, 2, 2.5, 3, 3.5], "labelExpr": "datum.value===0||datum.value===1||datum.value===2||datum.value===3 ? toString(datum.value) : ''", "tickSize": 9, "labelPadding": 7, "title": "Iₛᵧₙ [nA]", "titleAngle": -90, "titleX": -73, "titleY": 530, "titleAlign": "right", "titleBaseline": "alphabetic"}},
     "y2": {"field": "hi"}}},
   {"data": {"name": "lines"}, "transform": [{"filter": "datum.p==='A3'"}],
    "mark": {"type": "line", "color": "black", "strokeWidth": 2.2, "interpolate": "monotone"},
    "encoding": {"x": {"field": "V", "type": "quantitative", "axis": null}, "y": {"field": "pr", "type": "quantitative", "axis": null}}},
   {"data": {"name": "lines"}, "transform": [{"filter": "datum.p==='A3'"}],
    "mark": {"type": "line", "color": "#ff00ff", "strokeWidth": 2.2, "strokeDash": [6, 4], "interpolate": "monotone"},
    "encoding": {"x": {"field": "V", "type": "quantitative", "axis": null}, "y": {"field": "ft", "type": "quantitative", "axis": null}}},
   {"data": {"name": "pts"}, "transform": [{"filter": "datum.p==='A3'"}],
    "mark": {"type": "errorbar", "ticks": true, "size": 8, "thickness": 2.5, "color": "#ff00ff"},
    "encoding": {"x": {"field": "V", "type": "quantitative", "axis": null}, "y": {"field": "I", "type": "quantitative", "axis": null}, "yError": {"field": "e"}}},
   {"data": {"name": "pts"}, "transform": [{"filter": "datum.p==='A3'"}],
    "mark": {"type": "point", "filled": true, "size": 90, "color": "#ff00ff", "opacity": 1},
    "encoding": {"x": {"field": "V", "type": "quantitative", "axis": null}, "y": {"field": "I", "type": "quantitative", "axis": null}}},
   {"mark": {"type": "text", "text": "R²=0.79", "fontSize": 22, "align": "center", "baseline": "middle"}, "encoding": {"x": {"datum": -17.5, "axis": null}, "y": {"datum": 0.2, "axis": null}}},
   {"mark": {"type": "text", "text": "+", "fontSize": 28, "align": "center", "baseline": "middle"}, "encoding": {"x": {"datum": -27.03, "axis": null}, "y": {"datum": 3.755, "axis": null}}},
   {"mark": {"type": "text", "text": "100nM CCAP", "fontSize": 28, "align": "right", "baseline": "middle", "dx": -17, "color": "#ff0000"}, "encoding": {"x": {"datum": -27.03, "axis": null}, "y": {"datum": 3.755, "axis": null}}},
   {"mark": {"type": "text", "text": "10nM Proc", "fontSize": 28, "align": "left", "baseline": "middle", "dx": 17, "color": "#0000ff"}, "encoding": {"x": {"datum": -27.03, "axis": null}, "y": {"datum": 3.755, "axis": null}}}
  ]
 },
 {
  "data": {"values": [{}]},
  "resolve": {"axis": {"x": "independent", "y": "independent"}},
  "layer": [
   {"data": {"name": "band"}, "transform": [{"filter": "datum.p==='A4'"}],
    "mark": {"type": "area", "color": "#e8e8e8", "interpolate": "monotone"},
    "encoding": {
     "x": {"field": "V", "type": "quantitative", "scale": {"domain": [-60, 0], "range": [617, 992], "nice": false, "zero": false}, "axis": {"orient": "bottom", "offset": -606, "values": [-60, -50, -40, -30, -20, -10, 0], "labelExpr": "toString(datum.value)", "tickSize": 7, "labelPadding": 8, "title": "presyn Vₘ [mV]", "titleX": 993, "titleY": 74, "titleAlign": "right", "titleBaseline": "alphabetic"}},
     "y": {"field": "lo", "type": "quantitative", "scale": {"domain": [-0.5, 3.5], "range": [823, 529], "nice": false, "zero": false}, "axis": {"orient": "left", "offset": -617, "values": [-0.5, 0, 0.5, 1, 1.5, 2, 2.5, 3, 3.5], "labelExpr": "datum.value===0||datum.value===1||datum.value===2||datum.value===3 ? toString(datum.value) : ''", "tickSize": 9, "labelPadding": 7, "title": null}},
     "y2": {"field": "hi"}}},
   {"data": {"name": "lines"}, "transform": [{"filter": "datum.p==='A4'"}],
    "mark": {"type": "line", "color": "black", "strokeWidth": 2.2, "interpolate": "monotone"},
    "encoding": {"x": {"field": "V", "type": "quantitative", "axis": null}, "y": {"field": "pr", "type": "quantitative", "axis": null}}},
   {"data": {"name": "lines"}, "transform": [{"filter": "datum.p==='A4'"}],
    "mark": {"type": "line", "color": "#ff00ff", "strokeWidth": 2.2, "strokeDash": [6, 4], "interpolate": "monotone"},
    "encoding": {"x": {"field": "V", "type": "quantitative", "axis": null}, "y": {"field": "ft", "type": "quantitative", "axis": null}}},
   {"data": {"name": "pts"}, "transform": [{"filter": "datum.p==='A4'"}],
    "mark": {"type": "errorbar", "ticks": true, "size": 8, "thickness": 2.5, "color": "#ff00ff"},
    "encoding": {"x": {"field": "V", "type": "quantitative", "axis": null}, "y": {"field": "I", "type": "quantitative", "axis": null}, "yError": {"field": "e"}}},
   {"data": {"name": "pts"}, "transform": [{"filter": "datum.p==='A4'"}],
    "mark": {"type": "point", "filled": true, "size": 90, "color": "#ff00ff", "opacity": 1},
    "encoding": {"x": {"field": "V", "type": "quantitative", "axis": null}, "y": {"field": "I", "type": "quantitative", "axis": null}}},
   {"mark": {"type": "text", "text": "R²=0.82", "fontSize": 22, "align": "center", "baseline": "middle"}, "encoding": {"x": {"datum": -17.5, "axis": null}, "y": {"datum": 0.2, "axis": null}}},
   {"mark": {"type": "text", "text": "+", "fontSize": 28, "align": "center", "baseline": "middle"}, "encoding": {"x": {"datum": -27.92, "axis": null}, "y": {"datum": 3.755, "axis": null}}},
   {"mark": {"type": "text", "text": "200nM CCAP", "fontSize": 28, "align": "right", "baseline": "middle", "dx": -17, "color": "#ff0000"}, "encoding": {"x": {"datum": -27.92, "axis": null}, "y": {"datum": 3.755, "axis": null}}},
   {"mark": {"type": "text", "text": "200nM Proc", "fontSize": 28, "align": "left", "baseline": "middle", "dx": 17, "color": "#0000ff"}, "encoding": {"x": {"datum": -27.92, "axis": null}, "y": {"datum": 3.755, "axis": null}}}
  ]
 },
 {
  "data": {"values": [{}]},
  "resolve": {"axis": {"x": "independent", "y": "independent"}},
  "layer": [
   {"data": {"name": "sc"},
    "mark": {"type": "point", "filled": false, "size": 85, "color": "black", "strokeWidth": 1.5, "opacity": 1},
    "encoding": {
     "x": {"field": "p", "type": "quantitative", "scale": {"domain": [-0.5, 4.5], "range": [119, 489], "nice": false, "zero": false}, "axis": {"orient": "bottom", "offset": -74, "values": [0, 1, 2, 3, 4], "labelExpr": "toString(datum.value)", "tickSize": 5, "tickWidth": 2, "labelFontSize": 24, "labelPadding": 2, "title": "predicted Iₛᵧₙ [nA]", "titleFontSize": 34, "titleX": 481, "titleY": 65, "titleAlign": "right", "titleBaseline": "alphabetic"}},
     "y": {"field": "m", "type": "quantitative", "scale": {"domain": [-0.5, 4.5], "range": [1355, 987], "nice": false, "zero": false}, "axis": {"orient": "left", "offset": -119, "values": [0, 1, 2, 3, 4], "labelExpr": "toString(datum.value)", "tickSize": 6, "tickWidth": 2, "labelFontSize": 25, "labelPadding": 3, "title": "measured Iₛᵧₙ [nA]", "titleFontSize": 35, "titleAngle": -90, "titleX": -36, "titleY": 993, "titleAlign": "right", "titleBaseline": "alphabetic"}}}},
   {"mark": {"type": "rule", "color": "black", "strokeWidth": 2}, "encoding": {"x": {"datum": -0.5, "axis": null}, "y": {"datum": -0.5, "axis": null}, "x2": {"datum": 4.5}, "y2": {"datum": 4.5}}},
   {"mark": {"type": "rect", "filled": false, "stroke": "black", "strokeWidth": 3}, "encoding": {"x": {"datum": -0.5, "axis": null}, "x2": {"datum": 4.5}, "y": {"datum": -0.5, "axis": null}, "y2": {"datum": 4.5}}},
   {"mark": {"type": "text", "text": "R² = 0.73", "fontSize": 29, "align": "center", "baseline": "middle"}, "encoding": {"x": {"datum": 2.87, "axis": null}, "y": {"datum": 0.18, "axis": null}}},
   {"mark": {"type": "text", "text": "B", "fontSize": 30, "align": "center", "baseline": "middle"}, "encoding": {"x": {"datum": -1.68, "axis": null}, "y": {"datum": 4.92, "axis": null}}}
  ]
 },
 {
  "data": {"values": [{}]},
  "resolve": {"axis": {"x": "independent", "y": "independent"}},
  "layer": [
   {"data": {"name": "r2"},
    "mark": {"type": "point", "filled": true, "size": 140, "color": "black", "opacity": 1},
    "encoding": {
     "x": {"field": "i", "type": "quantitative", "scale": {"domain": [-0.08, 19.08], "range": [620, 992], "nice": false, "zero": false}, "axis": null},
     "y": {"field": "r", "type": "quantitative", "scale": {"domain": [-1, 1], "range": [1259, 988], "nice": false, "zero": false}, "axis": {"orient": "left", "offset": -620, "values": [-1, -0.5, 0, 0.5, 1], "labelExpr": "datum.value < 0 ? '-' + format(-datum.value, '.1f') : format(datum.value, '.1f')", "tickSize": 4, "labelFontSize": 27, "labelPadding": 3, "title": "R²", "titleAngle": -90, "titleX": -77, "titleY": 1001, "titleAlign": "right", "titleBaseline": "alphabetic"}}}},
   {"data": {"values": [{"r": 1}, {"r": 0}, {"r": -1}]},
    "mark": {"type": "rule", "color": "black", "strokeWidth": 2.5, "strokeDash": [7, 5]},
    "encoding": {
     "x": {"datum": -0.08, "axis": null}, "x2": {"datum": 19.08},
     "y": {"field": "r", "type": "quantitative", "axis": {"orient": "right", "offset": -9, "values": [-1, -0.5, 0, 0.5, 1], "labels": false, "tickSize": 5, "title": null}}}},
   {"mark": {"type": "text", "text": "C", "fontSize": 30, "align": "center", "baseline": "middle"}, "encoding": {"x": {"datum": -5.64, "axis": null}, "y": {"datum": 1.244, "axis": null}}}
  ]
 },
 {
  "data": {"name": "conc"},
  "resolve": {"axis": {"x": "independent", "y": "independent"}},
  "layer": [
   {"transform": [{"filter": "datum.d==='Both'"}],
    "mark": {"type": "point", "filled": false, "size": 190, "color": "#ff00ff", "strokeWidth": 3, "opacity": 1},
    "encoding": {
     "x": {"field": "i", "type": "quantitative", "scale": {"domain": [-0.08, 19.08], "range": [620, 992], "nice": false, "zero": false}, "axis": {"orient": "bottom", "offset": -27, "values": [2.16, 7.47, 14.37], "labelExpr": "datum.value < 5 ? 'Proc' : (datum.value < 10 ? 'CCAP' : 'Proc+CCAP')", "labelColor": {"condition": [{"test": "datum.value < 5", "value": "#0000ff"}, {"test": "datum.value < 10", "value": "#ff0000"}], "value": "#ff00ff"}, "domain": false, "ticks": false, "labelFontSize": 26, "labelPadding": -2, "title": null}},
     "y": {"field": "c", "type": "quantitative", "scale": {"type": "log", "domain": [0.1, 10000], "range": [1402, 1278], "nice": false}, "axis": {"orient": "left", "offset": -623, "values": [0.1, 1, 10, 100, 1000, 10000], "labelExpr": "datum.value >= 1 && datum.value <= 1000 ? toString(datum.value) : ''", "tickSize": 6, "labelFontSize": 22, "labelPadding": 4, "title": "conc [nM]", "titleAngle": -90, "titleX": -78, "titleY": 1263, "titleAlign": "right", "titleBaseline": "alphabetic"}}}},
   {"transform": [{"filter": "datum.d==='Proc'"}],
    "mark": {"type": "point", "filled": false, "size": 100, "color": "#0000ff", "strokeWidth": 2.5, "opacity": 1},
    "encoding": {"x": {"field": "i", "type": "quantitative", "axis": null}, "y": {"field": "c", "type": "quantitative", "axis": null}}},
   {"transform": [{"filter": "datum.d==='CCAP'"}],
    "mark": {"type": "point", "filled": false, "size": 100, "color": "#ff0000", "strokeWidth": 2.5, "opacity": 1},
    "encoding": {"x": {"field": "i", "type": "quantitative", "axis": null}, "y": {"field": "c", "type": "quantitative", "axis": null}}}
  ]
 }
],
"resolve": {"scale": {"x": "independent", "y": "independent"}, "axis": {"x": "independent", "y": "independent"}}
}
